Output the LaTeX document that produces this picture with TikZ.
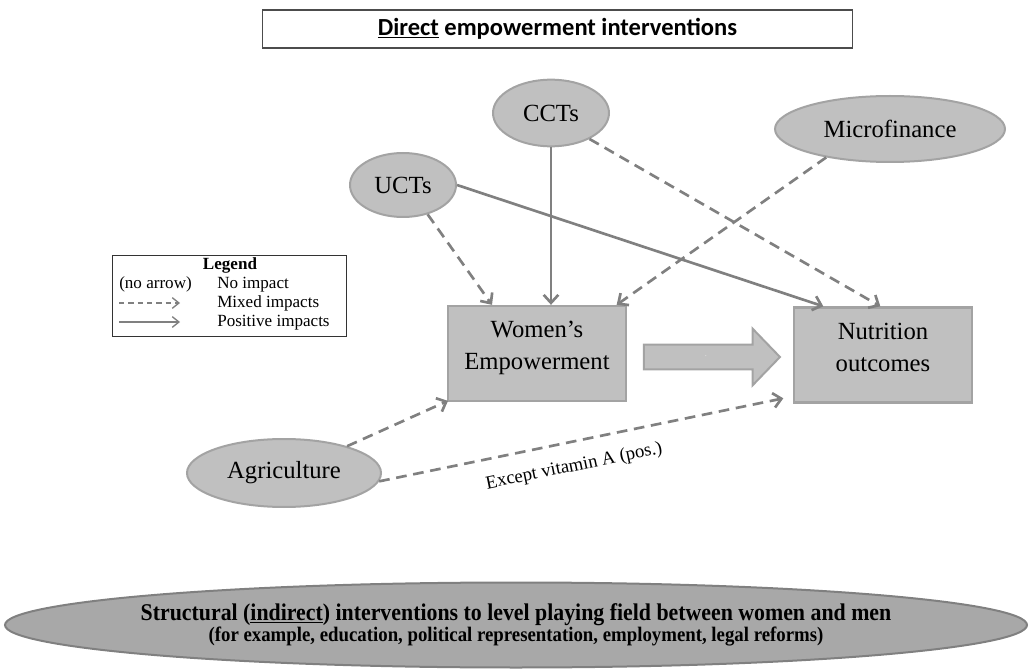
\documentclass[tikz,border=0pt]{standalone}
\usepackage{fontspec}
\setmainfont{Liberation Serif}
\newfontfamily\headfont{Carlito}
\newfontfamily\narrowfont[FakeStretch=0.91]{Liberation Serif}
\usetikzlibrary{arrows.meta,shapes.geometric,shapes.arrows}
\definecolor{boxgray}{RGB}{192,192,192}
\definecolor{edgegray}{RGB}{163,163,163}
\definecolor{linegray}{RGB}{128,128,128}
\definecolor{basegray}{RGB}{168,168,168}
\definecolor{baseedge}{RGB}{128,128,128}
\newcommand{\boxfont}{\fontsize{18.5}{24}\selectfont}
\newcommand{\keyfont}{\fontsize{12.8}{14}\selectfont}
\newcommand{\boxtext}[2]{\raisebox{4.5pt}[\height][\depth]{\begin{tabular}{@{}c@{}}#1\\#2\end{tabular}}}

\begin{document}
\begin{tikzpicture}[x=0.75pt,y=-0.75pt,
    box/.style={draw=edgegray,line width=2pt,fill=boxgray,minimum width=133.5pt,minimum height=71pt,inner sep=0pt,font=\boxfont},
    oval/.style={ellipse,draw=edgegray,line width=1.5pt,fill=boxgray,inner sep=0pt,font=\boxfont},
    posline/.style={draw=linegray,line width=2pt,-{Straight Barb[length=6pt,width=11pt]}},
    mixline/.style={posline,dash pattern=on 8pt off 5pt},
    keypos/.style={draw=linegray,line width=1pt,-{Straight Barb[length=5pt,width=8pt]}},
    keymixed/.style={keypos,dash pattern=on 4pt off 3pt},
    keytext/.style={anchor=base west,font=\keyfont,inner sep=0pt}]
    \useasboundingbox (0,0) rectangle (1032,670);
    % title and base
    \node[draw=black!70,line width=0.8pt,minimum width=443pt,minimum height=28.5pt,font=\headfont\bfseries\fontsize{18.4}{20}\selectfont] (title) at (557.5,29) {\underline{Direct} empowerment interventions};
    \node[ellipse,draw=baseedge,line width=1.5pt,fill=basegray,minimum width=766.5pt,minimum height=63.75pt,inner xsep=-15pt,inner ysep=0pt,align=center] (base) at (516,625)
      {\narrowfont\bfseries\fontsize{18}{19}\selectfont Structural (\underline{indirect}) interventions to level playing field between women and men\\[0pt]
       \narrowfont\bfseries\fontsize{15.5}{17}\selectfont (for example, education, political representation, employment, legal reforms)};
    % interventions
    \node[oval,minimum width=87pt,minimum height=50pt] (ccts) at (551,113) {CCTs};
    \node[oval,minimum width=79.5pt,minimum height=48pt] (ucts) at (403,185) {UCTs};
    \node[oval,minimum width=172.5pt,minimum height=49.5pt] (micro) at (890,129) {Microfinance};
    \node[oval,minimum width=145.5pt,minimum height=51pt] (agri) at (284,473) {Agriculture};
    % outcomes
    \node[box] (we) at (537,353.5) {\boxtext{Women's}{Empowerment}};
    \node[box] (nut) at (883,355) {\boxtext{Nutrition}{outcomes}};
    \node[single arrow,draw=edgegray,line width=1.5pt,fill=boxgray,minimum height=102pt,inner xsep=2pt,inner ysep=8.5pt,text height=0pt,text depth=0pt,single arrow head extend=12pt,single arrow tip angle=92,font=\tiny,text=white] (link) at (706,357) {.};
    % connectors
    \draw[posline] (ccts.south) -- (ccts.south |- we.north);
    \draw[mixline] (ucts.-50) -- ([xshift=34pt]we.north west);
    \draw[posline] (ucts.east) -- ([xshift=23pt]nut.north west);
    \draw[mixline] (ccts.-34) -- ([xshift=-2pt]nut.north);
    \draw[mixline] (micro.-156) -- ([xshift=-8pt]we.north east);
    \draw[mixline] (agri.23) -- ([xshift=1pt,yshift=1pt]we.south west);
    \draw[mixline] (agri.-5) -- ([xshift=-7pt,yshift=4pt]nut.south west)
      node[pos=0.47,below=8pt,sloped,font=\fontsize{14}{16}\selectfont] (note) {Except vitamin A (pos.)};
    % legend
    \node[draw=black!80,line width=0.6pt,minimum width=176pt,minimum height=60.75pt] (legend) at (229.5,295.5) {};
    \node[font=\keyfont\bfseries] (keyhead) at (230,265) {Legend};
    \node[keytext] (keynone) at (119,288.5) {(no arrow)};
    \node[keytext] (keynonetxt) at (217,288.5) {No impact};
    \node[keytext] (keymixtxt) at (217,307.5) {Mixed impacts};
    \node[keytext] (keypostxt) at (217,327) {Positive impacts};
    \coordinate (mixa) at (119,303);
    \coordinate (mixb) at (180,303);
    \coordinate (posa) at (119,322);
    \coordinate (posb) at (180,322);
    \draw[keymixed] (mixa) -- (mixb);
    \draw[keypos] (posa) -- (posb);
\end{tikzpicture}
\end{document}
